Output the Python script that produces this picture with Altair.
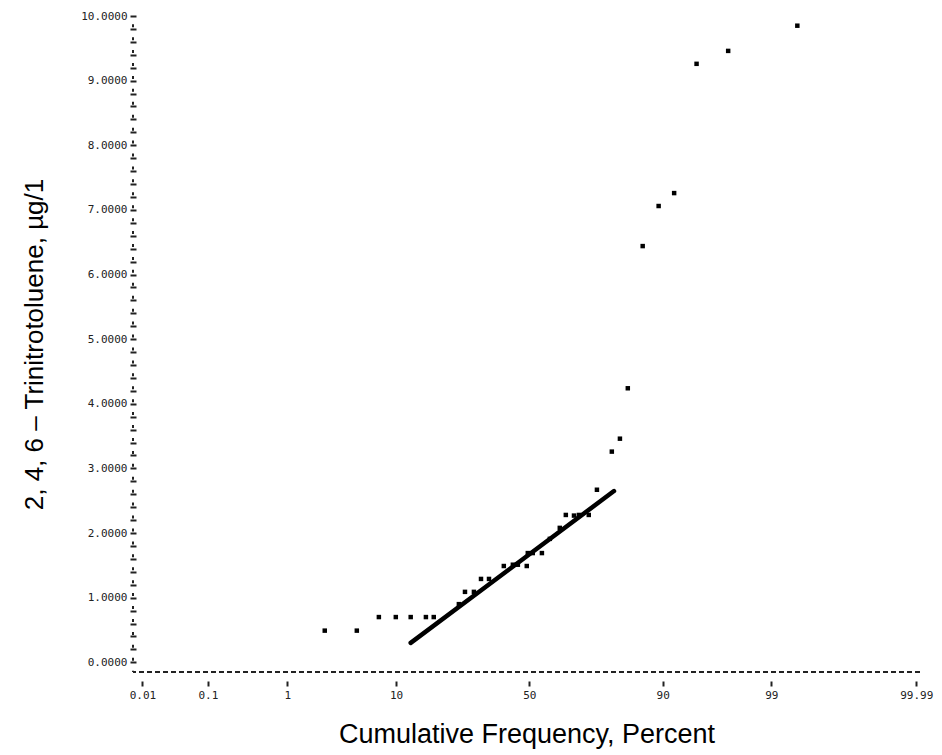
import altair as alt
import pandas as pd
from statistics import NormalDist

# Observed points: cumulative frequency (percent) and TNT concentration (ug/l)
pct = [2.46, 4.86, 7.40, 9.96, 12.7, 16.0, 17.9, 24.9, 26.8, 29.7, 32.1, 34.9,
       40.3, 43.7, 45.6, 49.0, 49.4, 51.3, 54.8, 57.8, 61.5, 63.7, 66.6, 68.3,
       71.6, 74.2, 78.6, 80.8, 82.8, 86.2, 89.3, 91.8, 94.6, 97.2, 99.5]
tnt = [0.49, 0.49, 0.70, 0.70, 0.70, 0.70, 0.70, 0.90, 1.09, 1.09, 1.29, 1.29,
       1.49, 1.51, 1.51, 1.49, 1.69, 1.69, 1.69, 1.91, 2.08, 2.28, 2.27, 2.28,
       2.28, 2.67, 3.26, 3.46, 4.24, 6.44, 7.06, 7.26, 9.26, 9.46, 9.85]

# Fitted straight line (ends)
fit_pct = [12.7, 79.2]
fit_tnt = [0.30, 2.65]

# Axis ticks
x_tick_pct = [0.01, 0.1, 1, 10, 50, 90, 99, 99.99]
x_tick_labels = ["0.01", "0.1", "1", "10", "50", "90", "99", "99.99"]
y_minor_ticks = [round(i * 0.2, 1) for i in range(51)]

nd = NormalDist()
def probit(p):
    return nd.inv_cdf(p / 100.0)

pts = pd.DataFrame({"z": [probit(p) for p in pct], "v": tnt, "pct": pct})
fit = pd.DataFrame({"z": [probit(p) for p in fit_pct], "v": fit_tnt})
x_tick_z = [probit(p) for p in x_tick_pct]

parts = [f"abs(datum.value - ({z:.6f})) < 0.001 ? '{lab}'" for z, lab in zip(x_tick_z, x_tick_labels)]
x_label_expr = " : ".join(parts) + " : ''"

XMIN, XMAX = -3.81, 3.755
YMIN, YMAX = -0.15, 10.0

xscale = alt.Scale(domain=[XMIN, XMAX], nice=False, zero=False)
yscale = alt.Scale(domain=[YMIN, YMAX], nice=False, zero=False)

xaxis = alt.Axis(
    values=x_tick_z, tickCount=100, labelExpr=x_label_expr, offset=9, domain=False,
    tickSize=5, tickWidth=2, tickColor="#222", grid=False, labelPadding=3,
    labelFont="DejaVu Sans Mono", labelFontSize=11, labelColor="#222",
    labelOverlap=False, labelFlush=False, labelBound=False,
    title="Cumulative Frequency, Percent", titleFont="Liberation Sans",
    titleFontSize=27, titleFontWeight="normal", titleColor="black",
    titleY=61, titleBaseline="alphabetic",
)
yaxis = alt.Axis(
    values=y_minor_ticks, tickCount=200,
    labelExpr="abs(datum.value - round(datum.value)) < 0.001 ? format(datum.value, '.4f') : ''",
    offset=-3, domain=False, tickSize=6, tickWidth=2, tickColor="#222",
    grid=False, labelPadding=3, labelFont="DejaVu Sans Mono", labelFontSize=11,
    labelColor="#222", labelOverlap=False, labelFlush=False, labelBound=False,
    title="2, 4, 6 \u2013 Trinitrotoluene, \u00b5g/1", titleFont="Liberation Sans",
    titleFontSize=26, titleFontWeight="normal", titleColor="black",
    titleX=-94, titleBaseline="alphabetic",
)

one = pd.DataFrame({"a": [0]})

points = alt.Chart(pts).mark_square(size=20, color="black", opacity=1).encode(
    x=alt.X("z:Q", scale=xscale, axis=xaxis),
    y=alt.Y("v:Q", scale=yscale, axis=yaxis),
)

line = alt.Chart(fit).mark_line(color="black", strokeWidth=4.5, strokeCap="round").encode(
    x=alt.X("z:Q", scale=xscale, axis=xaxis),
    y=alt.Y("v:Q", scale=yscale, axis=yaxis),
)

base_rule = alt.Chart(one).mark_rule(color="#222", strokeWidth=1.8, strokeDash=[5, 3]).encode(
    y=alt.YDatum(YMIN, type="quantitative", scale=yscale),
)
left_rule = alt.Chart(one).mark_rule(color="#222", strokeWidth=2, strokeDash=[3, 9.93], strokeDashOffset=4.73).encode(
    x=alt.XDatum(XMIN, type="quantitative", scale=xscale),
)

chart = alt.layer(base_rule, left_rule, line, points).properties(
    width=787, height=656,
    autosize=alt.AutoSizeParams(type="none"),
    padding={"left": 133, "top": 16, "right": 22, "bottom": 83},
    background="white",
).configure_view(stroke=None)

chart.save("out.html", embed_options={"renderer": "svg", "actions": False})
